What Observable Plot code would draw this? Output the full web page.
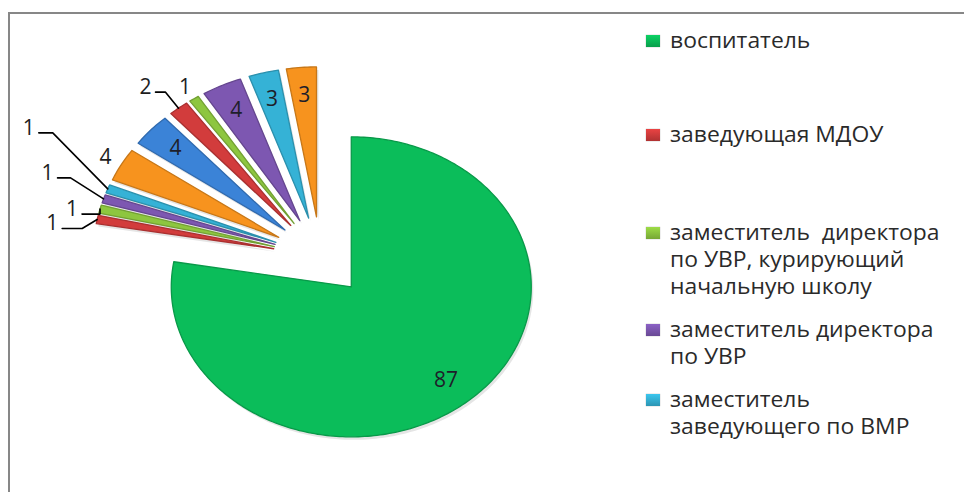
<!DOCTYPE html>
<html><head><meta charset="utf-8">
<script src="https://cdn.jsdelivr.net/npm/d3@7"></script>
<script src="https://cdn.jsdelivr.net/npm/@observablehq/plot@0.6"></script>
<style>
html,body{margin:0;padding:0;background:#fff;}
#wrap{position:relative;width:964px;height:492px;overflow:hidden;background:#fff;font-family:"Open Sans",sans-serif;}
#frame{position:absolute;left:8px;top:12px;width:1100px;height:700px;border-left:2.5px solid #878787;border-top:2.5px solid #878787;}
#chart{position:absolute;left:0;top:0;}
#legend{position:absolute;left:0;top:0;width:964px;height:492px;}
.item{position:absolute;left:646px;width:320px;font-size:21px;line-height:27px;color:#2a2a2a;}
.sw{position:absolute;left:0;top:8px;width:14px;height:12px;box-shadow:0 0 1px rgba(0,0,0,0.4);}
.txt{margin-left:24px;white-space:pre-wrap;width:260px;transform:scaleX(1.09);transform-origin:0 0;}
</style></head>
<body>
<div id="wrap"><div id="frame"></div><div id="chart"></div><div id="legend"></div></div>
<script>
// ---- data ----
const values = [87, 1, 1, 1, 1, 4, 4, 2, 1, 4, 3, 3];
const legendNames = [
  "воспитатель",
  "заведующая МДОУ",
  "заместитель  директора по УВР, курирующий начальную школу",
  "заместитель директора по УВР",
  "заместитель заведующего по ВМР"
];
// ---- styles ----
const sliceColors = ["#0bbd5a","#d23c3c","#8dc63f","#7d57b1","#35b2d6","#f7931e","#3b83d7","#d23c3c","#8dc63f","#7d57b1","#35b2d6","#f7931e"];
const legendTops = [27, 121, 219, 316, 386];

// ---- layout ----
const W = 964, H = 492;
const cxPx = 320, cyPx = 256, rx = 180, ry = 150;
const explode = 0.265;
const insideF = 0.815;
const outsideF = {5: 1.1, 8: 1.09};
const callouts = {1:{dx:-15,dy:9,len:20}, 2:{dx:0,dy:5,len:18}, 3:{dx:-33,dy:-21,len:13}, 4:{dx:-55,dy:-56,len:14}, 7:{dx:-13,dy:-16,len:10}};

// geometry from data
const total = d3.sum(values);
let acc = 0;
const slices = values.map((v, i) => {
  const a0 = acc / total * 2 * Math.PI; acc += v;
  const a1 = acc / total * 2 * Math.PI;
  const am = (a0 + a1) / 2;
  return {i, v, a0, a1, am, tx: explode * Math.sin(am), ty: explode * Math.cos(am)};
});
const polys = [];
for (const s of slices) {
  polys.push({x: s.tx, y: s.ty, i: s.i});
  const n = Math.max(4, Math.ceil((s.a1 - s.a0) / (Math.PI / 180)));
  for (let k = 0; k <= n; k++) {
    const t = s.a0 + (s.a1 - s.a0) * k / n;
    polys.push({x: s.tx + Math.sin(t), y: s.ty + Math.cos(t), i: s.i});
  }
  polys.push({x: s.tx, y: s.ty, i: s.i});
}
const inside = [], outside = [], callLabels = [], callLines = [];
for (const s of slices) {
  const dirx = Math.sin(s.am), diry = Math.cos(s.am);
  if (callouts[s.i]) {
    const c = callouts[s.i];
    const p0 = {x: s.tx + dirx, y: s.ty + diry};
    const p1 = {x: p0.x + c.dx / rx, y: p0.y - c.dy / ry};
    const p2 = {x: p1.x - c.len / rx, y: p1.y};
    callLines.push({...p0, i: s.i}, {...p1, i: s.i}, {...p2, i: s.i});
    callLabels.push({...p2, text: String(s.v)});
  } else if (outsideF[s.i]) {
    outside.push({x: s.tx + outsideF[s.i] * dirx, y: s.ty + outsideF[s.i] * diry, text: String(s.v)});
  } else {
    inside.push({x: s.tx + insideF * dirx, y: s.ty + insideF * diry, text: String(s.v)});
  }
}
const fillOf = d => sliceColors[d.i];
const rimOf = d => d3.color(sliceColors[d.i]).darker(0.6).formatHex();

const chart = Plot.plot({
  width: W, height: H, margin: 0,
  style: {background: "transparent", fontFamily: "'Open Sans', sans-serif", overflow: "visible"},
  x: {domain: [-1, 1], range: [cxPx - rx, cxPx + rx], axis: null},
  y: {domain: [-1, 1], range: [cyPx + ry, cyPx - ry], axis: null},
  color: {type: "identity"},
  marks: [
    Plot.line(polys, {x: "x", y: "y", z: "i", fill: "#000", fillOpacity: 0.1, stroke: "none", dx: 2, dy: 3, curve: "linear"}),
    Plot.line(polys, {x: "x", y: "y", z: "i", fill: fillOf, stroke: rimOf, strokeWidth: 1.3, curve: "linear"}),
    Plot.line(callLines, {x: "x", y: "y", z: "i", stroke: "#000", strokeWidth: 1.6, curve: "linear"}),
    Plot.text(inside, {x: "x", y: "y", text: "text", fontSize: 21, fill: "#1e1e2a"}),
    Plot.text(outside, {x: "x", y: "y", text: "text", fontSize: 21, fill: "#1e1e1e"}),
    Plot.text(callLabels, {x: "x", y: "y", text: "text", fontSize: 21, fill: "#1e1e1e", textAnchor: "end", dx: -4, dy: -5})
  ]
});
document.getElementById("chart").appendChild(chart);

// legend (only visible part of the Excel legend)
const leg = d3.select("#legend");
legendNames.forEach((name, i) => {
  const it = leg.append("div").attr("class", "item").style("top", legendTops[i] + "px");
  const c = d3.color(sliceColors[i]);
  it.append("div").attr("class", "sw")
    .style("background", `linear-gradient(180deg, ${c.brighter(0.3).formatHex()}, ${c.darker(0.5).formatHex()})`);
  it.append("div").attr("class", "txt").text(name);
});
</script>
</body></html>
